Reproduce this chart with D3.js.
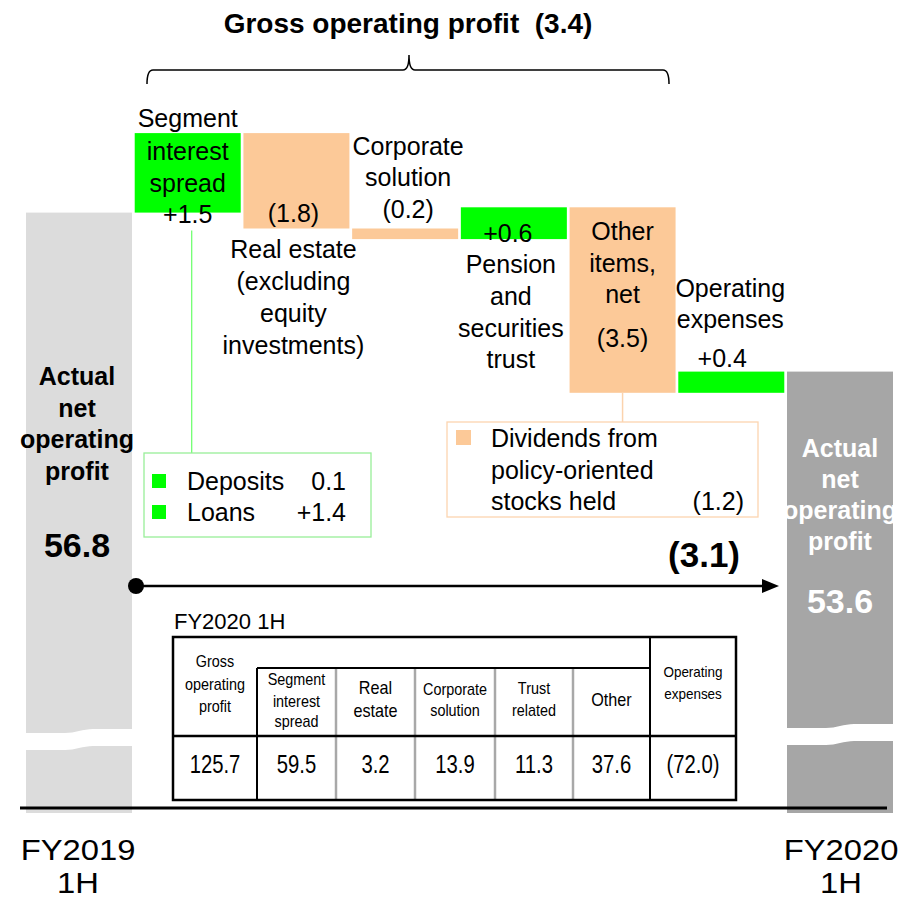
<!DOCTYPE html>
<html>
<head>
<meta charset="utf-8">
<script src="https://cdn.jsdelivr.net/npm/d3@7/dist/d3.min.js"></script>
<style>
  body { margin: 0; background: #fff; }
  figure { margin: 0; }
  svg { display: block; font-family: "Liberation Sans", Arial, sans-serif; }
</style>
</head>
<body>
<figure id="bridge"></figure>
<script>
// bridge steps, left to right
const categories = ["FY2019 1H", "Segment interest spread", "Real estate", "Corporate solution",
  "Pension and securities trust", "Other items, net", "Operating expenses", "FY2020 1H"];
const startValue = 56.8;
const endValue = 53.6;
const changes = [1.5, -1.8, -0.2, 0.6, -3.5, 0.4];
const grossChange = -3.4;
const netChange = -3.1;

// wrapped label lines for each step
const stepNames = [
  ["Segment", "interest", "spread"],
  ["Real estate", "(excluding", "equity", "investments)"],
  ["Corporate", "solution"],
  ["Pension", "and", "securities", "trust"],
  ["Other", "items,", "net"],
  ["Operating", "expenses"]
];
const totalName = ["Actual", "net", "operating", "profit"];
const periodNames = [["FY2019", "1H"], ["FY2020", "1H"]];

// breakdown callouts
const interestItems = ["Deposits", "Loans"];
const interestValues = ["0.1", "+1.4"];
const dividendLines = ["Dividends from", "policy-oriented", "stocks held"];
const dividendValue = -1.2;

// FY2020 1H table
const tableTitle = "FY2020 1H";
const tableHeads = [
  ["Gross", "operating", "profit"],
  ["Segment", "interest", "spread"],
  ["Real", "estate"],
  ["Corporate", "solution"],
  ["Trust", "related"],
  ["Other"],
  ["Operating", "expenses"]
];
const tableValues = [125.7, 59.5, 3.2, 13.9, 11.3, 37.6, -72.0];

const width = 907, height = 900;
const green = "#00ff00", peach = "#fcc998";
const baseY = 808;

const f1 = d3.format(".1f");
const fmtDelta = v => v < 0 ? "(" + f1(-v) + ")" : "+" + f1(v);
const fmtPlain = v => v < 0 ? "(" + f1(-v) + ")" : f1(v);

const svg = d3.select("figure#bridge")
  .append("svg")
  .attr("width", width)
  .attr("height", height);

// x band per step, y value scale (axis is broken, so bars stop at the base line)
const x = d3.scaleBand()
  .domain(categories)
  .range([26, 893])
  .paddingInner(0.025);

const y = d3.scaleLinear()
  .domain([50, 60])
  .range([573, 43]);

// running totals for the floating bars
let running = startValue;
const steps = changes.map((d, i) => {
  const from = running;
  running += d;
  return { cat: categories[i + 1], from: from, to: running, d: d, i: i };
});
const totals = [
  { cat: categories[0], v: startValue, top: startValue, fill: "#dcdcdc", text: "#000" },
  { cat: categories[7], v: endValue, top: running, fill: "#a6a6a6", text: "#fff" }
];

// big total bars
svg.selectAll("rect.total")
  .data(totals)
  .enter()
  .append("rect")
  .attr("class", "total")
  .attr("x", d => x(d.cat))
  .attr("y", d => y(d.top))
  .attr("width", x.bandwidth())
  .attr("height", d => baseY + 5 - y(d.top))
  .attr("fill", d => d.fill);

// wavy white break across the total bars
const breakTop = [729, 724];
svg.selectAll("path.break")
  .data(totals)
  .enter()
  .append("path")
  .attr("class", "break")
  .attr("fill", "#fff")
  .attr("d", (d, i) => {
    const x0 = x(d.cat) - 1, x1 = x(d.cat) + x.bandwidth() + 1, xm = (x0 + x1) / 2, t = breakTop[i];
    return `M${x0},${t + 4} L${xm - 14},${t + 4} C${xm - 4},${t + 4} ${xm + 4},${t} ${xm + 14},${t} L${x1},${t}`
      + ` L${x1},${t + 17} L${xm + 14},${t + 17} C${xm + 4},${t + 17} ${xm - 4},${t + 21} ${xm - 14},${t + 21} L${x0},${t + 21} Z`;
  });

// floating step bars
svg.selectAll("rect.step")
  .data(steps)
  .enter()
  .append("rect")
  .attr("class", "step")
  .attr("x", d => x(d.cat))
  .attr("y", d => y(Math.max(d.from, d.to)))
  .attr("width", x.bandwidth())
  .attr("height", d => Math.abs(y(d.from) - y(d.to)))
  .attr("fill", d => d.d > 0 ? green : peach);

// base line
svg.append("line")
  .attr("x1", 20).attr("x2", 887)
  .attr("y1", baseY).attr("y2", baseY)
  .attr("stroke", "#000").attr("stroke-width", 3);

// title and brace over the gross operating profit steps
svg.append("text")
  .attr("x", 408).attr("y", 33)
  .attr("text-anchor", "middle")
  .attr("font-size", 28).attr("font-weight", "bold")
  .style("white-space", "pre")
  .text("Gross operating profit  " + fmtPlain(grossChange));

svg.append("path")
  .attr("fill", "none").attr("stroke", "#000").attr("stroke-width", 1.5)
  .attr("d", "M147,84 Q147,70 153,70 L403,70 Q409,70 409,55 Q409,70 415,70 L663,70 Q669,70 669,84");

// step labels: baselines for name lines and the value
const stepLayout = [
  { dx: 0, names: [127, 160, 192], value: 223, vdx: 0 },
  { dx: -3, names: [258, 290, 322, 354], value: 222, vdx: 0 },
  { dx: 3, names: [155, 186], value: 218, vdx: 0 },
  { dx: -3, names: [273, 305, 337, 368], value: 242, vdx: -3 },
  { dx: 0, names: [240, 272, 303], value: 347, vdx: 0 },
  { dx: -1, names: [297, 328], value: 367, vdx: -8 }
];

const labels = svg.append("g")
  .attr("font-size", 25)
  .attr("text-anchor", "middle");

steps.forEach((s, i) => {
  const cx = x(s.cat) + x.bandwidth() / 2 + stepLayout[i].dx;
  stepNames[i].forEach((line, j) => {
    labels.append("text")
      .attr("x", cx).attr("y", stepLayout[i].names[j])
      .text(line);
  });
  labels.append("text")
    .attr("x", cx + stepLayout[i].vdx).attr("y", stepLayout[i].value)
    .text(fmtDelta(s.d));
});

// total labels inside the big bars
const totalLayout = [
  { dx: -2, names: [385, 417, 448, 480], value: 557 },
  { dx: 0, names: [457, 488, 519, 550], value: 613 }
];
totals.forEach((t, i) => {
  const cx = x(t.cat) + x.bandwidth() / 2 + totalLayout[i].dx;
  const g = svg.append("g")
    .attr("text-anchor", "middle")
    .attr("font-weight", "bold")
    .attr("fill", t.text);
  totalName.forEach((line, j) => {
    g.append("text")
      .attr("x", cx).attr("y", totalLayout[i].names[j])
      .attr("font-size", 25)
      .text(line);
  });
  g.append("text")
    .attr("x", cx).attr("y", totalLayout[i].value)
    .attr("font-size", 34)
    .text(f1(t.v));

  // period label under the axis
  periodNames[i].forEach((line, j) => {
    svg.append("text")
      .attr("transform", `translate(${cx + 1},${860 + j * 33}) scale(1.13,1)`)
      .attr("text-anchor", "middle")
      .attr("font-size", 29)
      .text(line);
  });
});

// segment interest spread breakdown
const segX = x(categories[1]) + 57;
svg.append("line")
  .attr("x1", segX).attr("x2", segX)
  .attr("y1", y(startValue) + 18).attr("y2", 453)
  .attr("stroke", "#66ff66").attr("stroke-width", 1.2);
svg.append("rect")
  .attr("x", 144).attr("y", 453).attr("width", 227).attr("height", 84)
  .attr("fill", "#fff").attr("stroke", "#99ee99").attr("stroke-width", 1.3);
interestItems.forEach((name, i) => {
  const by = 490 + i * 31;
  svg.append("rect")
    .attr("x", 152).attr("y", by - 16).attr("width", 14).attr("height", 14)
    .attr("fill", green);
  svg.append("text").attr("x", 187).attr("y", by).attr("font-size", 25).text(name);
  svg.append("text").attr("x", 346).attr("y", by).attr("font-size", 25)
    .attr("text-anchor", "end").text(interestValues[i]);
});

// dividends breakdown under other items
const othX = x(categories[5]) + x.bandwidth() / 2;
svg.append("line")
  .attr("x1", othX).attr("x2", othX)
  .attr("y1", y(steps[4].to)).attr("y2", 422)
  .attr("stroke", "#fbd3ad").attr("stroke-width", 1.5);
svg.append("rect")
  .attr("x", 447).attr("y", 422).attr("width", 311).attr("height", 95)
  .attr("fill", "#fff").attr("stroke", "#fcd5b0").attr("stroke-width", 1.3);
svg.append("rect")
  .attr("x", 456).attr("y", 430).attr("width", 15).attr("height", 15)
  .attr("fill", peach);
dividendLines.forEach((line, j) => {
  svg.append("text").attr("x", 491).attr("y", 447 + j * 31.5)
    .attr("font-size", 25).text(line);
});
svg.append("text").attr("x", 744).attr("y", 510)
  .attr("font-size", 25).attr("text-anchor", "end")
  .text(fmtPlain(dividendValue));

// net change arrow
svg.append("line")
  .attr("x1", 136).attr("x2", 765)
  .attr("y1", 586).attr("y2", 586)
  .attr("stroke", "#000").attr("stroke-width", 2.5);
svg.append("circle")
  .attr("cx", 136).attr("cy", 586).attr("r", 8)
  .attr("fill", "#000");
svg.append("path")
  .attr("d", "M762,579 L779,586 L762,593 Z")
  .attr("fill", "#000");
svg.append("text")
  .attr("x", 740).attr("y", 567)
  .attr("text-anchor", "end")
  .attr("font-size", 35).attr("font-weight", "bold")
  .text(fmtPlain(netChange));

// table of FY2020 1H values
svg.append("text")
  .attr("x", 174).attr("y", 629)
  .attr("font-size", 22)
  .text(tableTitle);

const colEdges = [173, 257, 336, 415, 495, 573, 650, 736];
const tTop = 637, tSub = 668, tMid = 736, tBot = 800;
const table = svg.append("g");

// gray sub-column dividers
[2, 3, 4, 5].forEach(c => {
  table.append("line")
    .attr("x1", colEdges[c]).attr("x2", colEdges[c])
    .attr("y1", tSub).attr("y2", tBot)
    .attr("stroke", "#a8a8a8").attr("stroke-width", 2.5);
});
// black rules
[[colEdges[1], tSub, colEdges[1], tBot, 2], [colEdges[6], tTop, colEdges[6], tBot, 2],
 [colEdges[1], tSub, colEdges[6], tSub, 2], [colEdges[0], tMid, colEdges[7], tMid, 2.5]]
  .forEach(l => {
    table.append("line")
      .attr("x1", l[0]).attr("y1", l[1]).attr("x2", l[2]).attr("y2", l[3])
      .attr("stroke", "#000").attr("stroke-width", l[4]);
  });
table.append("rect")
  .attr("x", colEdges[0]).attr("y", tTop)
  .attr("width", colEdges[7] - colEdges[0]).attr("height", tBot - tTop)
  .attr("fill", "none").attr("stroke", "#000").attr("stroke-width", 2.5);

// header text baselines per column
const headLayout = [
  { y: [667, 690, 712], size: 16 },
  { y: [685, 707, 727], size: 16 },
  { y: [694, 717], size: 18 },
  { y: [695, 716], size: 16 },
  { y: [694, 716], size: 16 },
  { y: [706], size: 18 },
  { y: [677, 699], size: 15 }
];
tableHeads.forEach((lines, c) => {
  const cx = (colEdges[c] + colEdges[c + 1]) / 2;
  lines.forEach((line, j) => {
    table.append("text")
      .attr("transform", `translate(${cx},${headLayout[c].y[j]}) scale(0.9,1)`)
      .attr("text-anchor", "middle")
      .attr("font-size", headLayout[c].size)
      .text(line);
  });
});
table.selectAll("text.val")
  .data(tableValues)
  .enter()
  .append("text")
  .attr("class", "val")
  .attr("transform", (d, c) => `translate(${(colEdges[c] + colEdges[c + 1]) / 2},773) scale(0.78,1)`)
  .attr("text-anchor", "middle")
  .attr("font-size", 26)
  .text(d => fmtPlain(d));
</script>
</body>
</html>
